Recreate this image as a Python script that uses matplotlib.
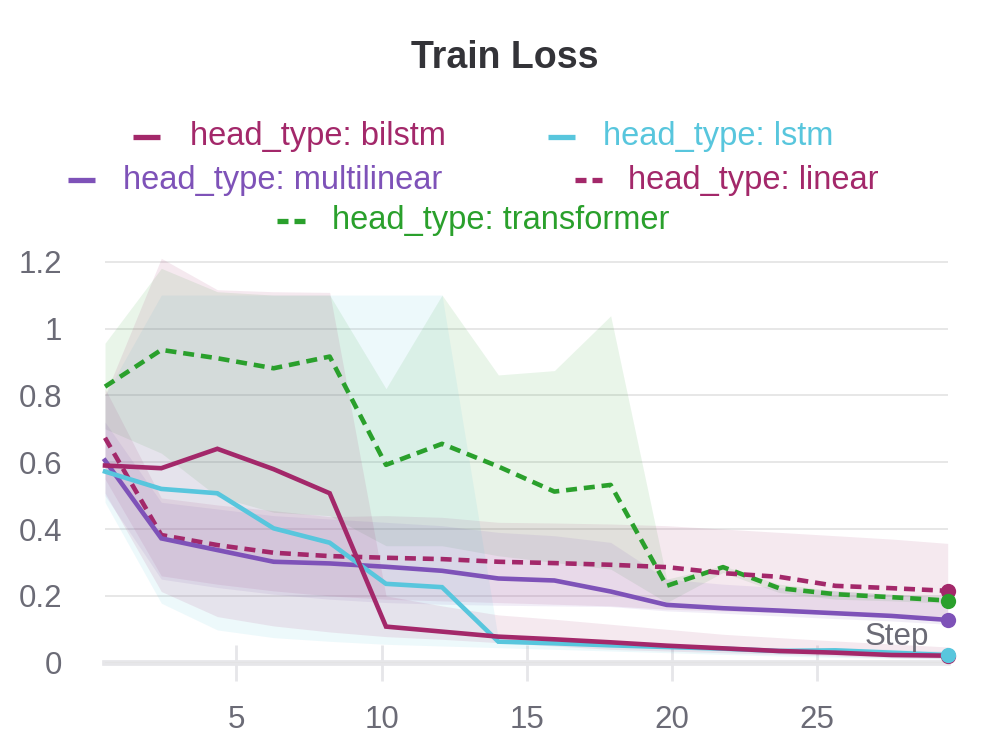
import matplotlib
matplotlib.use("Agg")
import matplotlib.pyplot as plt
from matplotlib.lines import Line2D

plt.rcParams['font.family'] = ['Liberation Sans', 'DejaVu Sans']

# ---------------- data ----------------
steps = [0.47, 2.41, 4.34, 6.28, 8.21, 10.15, 12.08, 14.02, 15.95, 17.89,
         19.82, 21.76, 23.69, 25.63, 27.56, 29.5]

bilstm = [0.59, 0.582, 0.64, 0.579, 0.507, 0.108, 0.093, 0.078, 0.070, 0.061,
          0.051, 0.043, 0.035, 0.030, 0.023, 0.021]
bilstm_max = [0.80, 1.21, 1.116, 1.11, 1.108, 0.20, 0.17, 0.143, 0.13, 0.115,
              0.10, 0.085, 0.075, 0.065, 0.056, 0.047]
bilstm_min = [0.508, 0.213, 0.138, 0.11, 0.092, 0.078, 0.07, 0.06, 0.05, 0.04,
              0.035, 0.03, 0.025, 0.02, 0.015, 0.012]

lstm = [0.572, 0.52, 0.507, 0.402, 0.359, 0.236, 0.226, 0.063, 0.058, 0.052,
        0.047, 0.042, 0.035, 0.037, 0.03, 0.023]
lstm_max = [0.80, 1.10, 1.10, 1.10, 1.10, 1.10, 1.10, 0.07, 0.065, 0.06,
            0.055, 0.05, 0.045, 0.045, 0.04, 0.035]
lstm_min = [0.48, 0.178, 0.098, 0.075, 0.064, 0.055, 0.05, 0.045, 0.04, 0.035,
            0.03, 0.025, 0.02, 0.016, 0.013, 0.01]

multilinear = [0.605, 0.372, 0.337, 0.302, 0.297, 0.287, 0.275, 0.252, 0.246, 0.213,
               0.173, 0.163, 0.156, 0.148, 0.140, 0.128]
multilinear_max = [0.72, 0.48, 0.46, 0.44, 0.43, 0.42, 0.41, 0.39, 0.38, 0.36,
                   0.25, 0.235, 0.225, 0.215, 0.205, 0.195]
multilinear_min = [0.50, 0.25, 0.225, 0.205, 0.19, 0.18, 0.175, 0.172, 0.17, 0.168,
                   0.155, 0.148, 0.14, 0.132, 0.125, 0.115]

linear = [0.673, 0.382, 0.352, 0.329, 0.319, 0.314, 0.31, 0.302, 0.298, 0.293,
          0.286, 0.268, 0.257, 0.23, 0.223, 0.215]
linear_max = [0.82, 0.493, 0.472, 0.455, 0.437, 0.44, 0.435, 0.42, 0.418, 0.415,
              0.41, 0.40, 0.39, 0.38, 0.37, 0.357]
linear_min = [0.55, 0.26, 0.235, 0.215, 0.20, 0.19, 0.185, 0.18, 0.175, 0.17,
              0.16, 0.155, 0.15, 0.145, 0.14, 0.135]

transformer = [0.826, 0.936, 0.911, 0.881, 0.916, 0.592, 0.655, 0.587, 0.512, 0.532,
               0.230, 0.286, 0.223, 0.205, 0.196, 0.186]
transformer_max = [0.956, 1.18, 1.11, 1.10, 1.10, 0.82, 1.10, 0.861, 0.874, 1.038,
                   0.25, 0.29, 0.235, 0.215, 0.205, 0.195]
transformer_min = [0.70, 0.627, 0.497, 0.45, 0.44, 0.35, 0.35, 0.32, 0.30, 0.28,
                   0.18, 0.27, 0.21, 0.19, 0.185, 0.178]

names = ['head_type: bilstm', 'head_type: lstm', 'head_type: multilinear',
         'head_type: linear', 'head_type: transformer']

C_MAG = '#A3286A'
C_CYAN = '#58C6DD'
C_PURP = '#7E52B8'
C_GREEN = '#2AA02C'

x_ticks = [5, 10, 15, 20, 25]
y_ticks = [0, 0.2, 0.4, 0.6, 0.8, 1.0, 1.2]
y_tick_labels = ['0', '0.2', '0.4', '0.6', '0.8', '1', '1.2']

# ---------------- figure ----------------
W, H = 1008, 753
fig = plt.figure(figsize=(W / 100, H / 100), dpi=100)
ax = fig.add_axes([105 / W, (H - 662.7) / H, (947.7 - 105) / W, 417.75 / H])
ax.set_xlim(0.47, 29.5)
ax.set_ylim(0, 1.25)

series = [
    (transformer, transformer_min, transformer_max, C_GREEN, (0, (2.4, 1.5)), 2),
    (linear, linear_min, linear_max, C_MAG, (0, (2.4, 1.5)), 3),
    (multilinear, multilinear_min, multilinear_max, C_PURP, '-', 4),
    (lstm, lstm_min, lstm_max, C_CYAN, '-', 5),
    (bilstm, bilstm_min, bilstm_max, C_MAG, '-', 6),
]
for ys, lo, hi, col, ls, z in series:
    ax.fill_between(steps, lo, hi, color=col, alpha=0.1, linewidth=0, zorder=1)
for ys, lo, hi, col, ls, z in series:
    ax.plot(steps, ys, color=col, lw=3.3, linestyle=ls, zorder=z,
            dash_capstyle='butt', solid_joinstyle='miter', clip_on=False)

# end dots
dot_order = [(linear, C_MAG), (transformer, C_GREEN), (multilinear, C_PURP),
             (bilstm, C_MAG), (lstm, C_CYAN)]
for ys, col in dot_order:
    ax.plot([steps[-1]], [ys[-1]], 'o', color=col, markersize=11,
            markeredgewidth=0, zorder=10, clip_on=False)

# axes styling
for s in ['top', 'right', 'left']:
    ax.spines[s].set_visible(False)
ax.spines['bottom'].set_color('#e6e6e9')
ax.spines['bottom'].set_linewidth(4.1)
ax.spines['bottom'].set_zorder(0.5)

ax.set_yticks(y_ticks)
ax.set_yticklabels(y_tick_labels)
ax.set_xticks(x_ticks)
ax.tick_params(axis='y', length=0, pad=31, labelsize=22.5, labelcolor='#6b6b76')
ax.tick_params(axis='x', direction='inout', length=25.5, width=2.0, color='#e6e6e9',
               pad=18, labelsize=22.5, labelcolor='#6b6b76')
ax.grid(axis='y', color='#e3e3e3', lw=1.2, zorder=0)
ax.set_axisbelow(True)

# "Step" label
fig.text(929 / W, (H - 645) / H, 'Step', ha='right', va='baseline',
         fontsize=22.5, color='#6b6b76')

# title
fig.text(505 / W, 1 - 58 / H, 'Train Loss', ha='center', va='center',
         fontsize=27, fontweight='bold', color='#333338')

# legend (manual layout)
legend_items = [
    (names[0], C_MAG, '-', 133, 160, 190, 137),
    (names[1], C_CYAN, '-', 548, 575, 603, 137),
    (names[2], C_PURP, '-', 68, 95, 123, 180),
    (names[3], C_MAG, '--', 575, 602, 628, 180),
    (names[4], C_GREEN, '--', 277, 305, 332, 221),
]
for label, col, ls, x0, x1, xt, yc in legend_items:
    yy = 1 - yc / H
    if ls == '-':
        fig.add_artist(Line2D([x0 / W, x1 / W], [yy, yy], color=col, lw=3.8,
                              solid_capstyle='butt', transform=fig.transFigure))
    else:
        xm = (x0 + x1) / 2
        fig.add_artist(Line2D([x0 / W, (xm - 3) / W], [yy, yy], color=col, lw=3.8,
                              solid_capstyle='butt', transform=fig.transFigure))
        fig.add_artist(Line2D([(xm + 3) / W, x1 / W], [yy, yy], color=col, lw=3.8,
                              solid_capstyle='butt', transform=fig.transFigure))
    fig.text(xt / W, yy, label, ha='left', va='center', fontsize=23.5, color=col)

fig.savefig('out.png', dpi=100)
